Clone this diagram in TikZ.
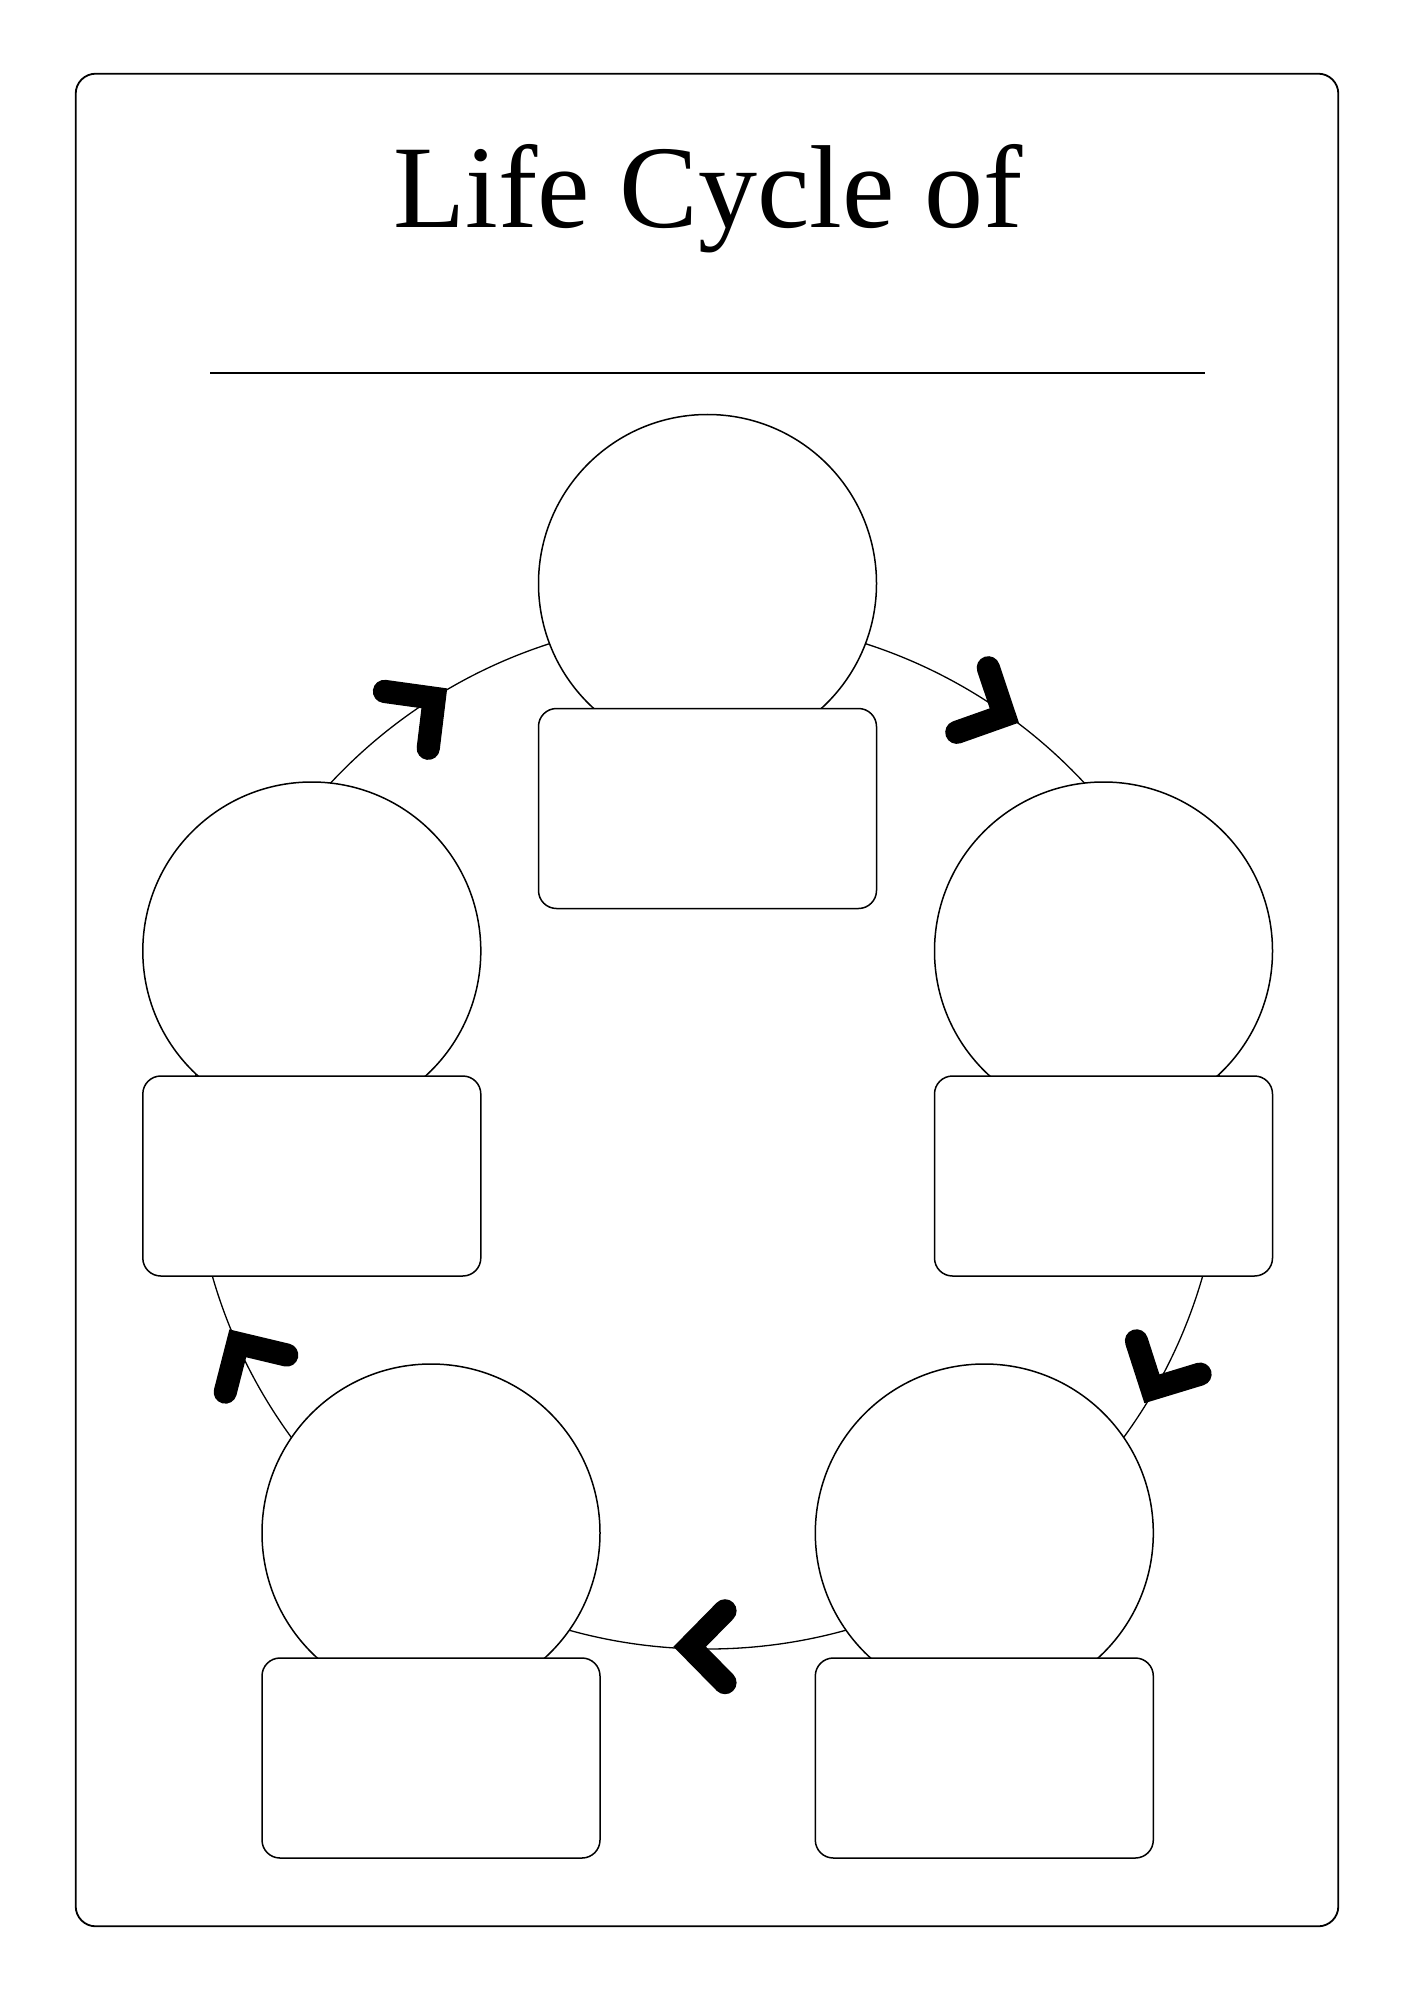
\documentclass[tikz,border=0pt]{standalone}
\usepackage{fontspec}
\setmainfont{Liberation Serif}
\tikzset{
  stage/.style={circle, draw=black, line width=0.75pt, fill=white, minimum size=169pt, inner sep=0pt, outer sep=0pt},
  namebox/.style={rectangle, draw=black, line width=0.75pt, fill=white, rounded corners=9pt, minimum width=169pt, minimum height=100pt, inner sep=0pt, outer sep=0pt},
  chevron/.style={draw=black, line width=11.6pt, line cap=round, line join=miter},
  frameline/.style={draw=black, line width=0.9pt},
  ringline/.style={draw=black, line width=0.65pt},
}
\begin{document}
\begin{tikzpicture}[x=0.5pt, y=-0.5pt]
\useasboundingbox (0,0) rectangle (1414,2000);
% frame
\draw[frameline, rounded corners=10pt] (75.7,73.7) rectangle (1338.3,1926.3);
% title
\node (title) [anchor=base, inner sep=0pt, font=\fontsize{59}{70}\selectfont] at (708,228) {Life Cycle of};
\coordinate (ruleL) at (210,373);
\coordinate (ruleR) at (1205,373);
\draw[frameline, line width=0.8pt] (ruleL) -- (ruleR);
% ring
\draw[ringline] (707.5,1134) circle [radius=515];
% stage circles
\node (c1) [stage] at (707.5,583.5) {};
\node (c2) [stage] at (1103.5,951) {};
\node (c3) [stage] at (984.3,1533) {};
\node (c4) [stage] at (431,1533) {};
\node (c5) [stage] at (311.8,951) {};
% label boxes
\node (b1) [namebox] at (707.5,808.5) {};
\node (b2) [namebox] at (1103.5,1176) {};
\node (b3) [namebox] at (984.3,1758) {};
\node (b4) [namebox] at (431,1758) {};
\node (b5) [namebox] at (311.8,1176) {};
% chevron arrows
\foreach \tx/\ty/\ang in {447.3/688.3/-37.6, 1019/722.7/26, 1144.3/1403.3/117.6, 673.3/1646.7/180, 229.3/1329.3/238.9}{
  \draw[chevron, shift={(\tx,\ty)}, rotate=-\ang] (-51.7,35.9) -- (-16.4,0) -- (-51.7,-35.9);
}
\end{tikzpicture}
\end{document}
